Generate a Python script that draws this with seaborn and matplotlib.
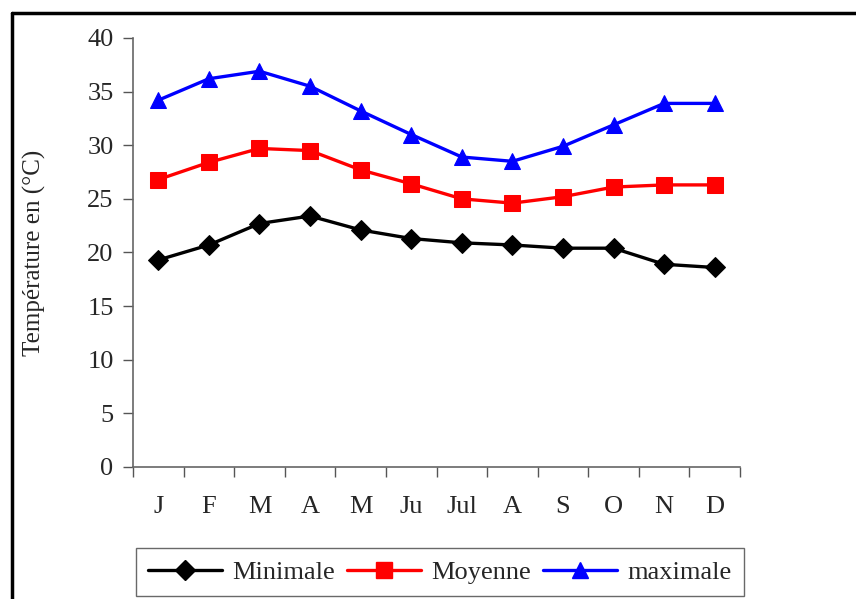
import matplotlib
matplotlib.use("Agg")
import matplotlib.pyplot as plt
from matplotlib.lines import Line2D
import seaborn as sns
import pandas as pd

months = ["J", "F", "M", "A", "M", "Ju", "Jul", "A", "S", "O", "N", "D"]
t_min = [19.3, 20.7, 22.7, 23.4, 22.1, 21.3, 20.9, 20.7, 20.4, 20.4, 18.9, 18.6]
t_moy = [26.8, 28.4, 29.7, 29.5, 27.7, 26.4, 25.0, 24.6, 25.2, 26.1, 26.3, 26.3]
t_max = [34.2, 36.2, 36.9, 35.5, 33.2, 31.0, 28.9, 28.5, 29.9, 31.9, 33.9, 33.9]

series_names = ["Minimale", "Moyenne", "maximale"]
series_values = [t_min, t_moy, t_max]
colors = ["black", "#ff0000", "#0000ff"]
markers = ["D", "s", "^"]
marker_sizes = [10, 11, 12]

sns.set_theme(style="white")
plt.rcParams["font.family"] = ["Liberation Serif", "DejaVu Serif"]

fig = plt.figure(figsize=(8.56, 5.99), dpi=100)
ax = fig.add_axes([0.1554, 0.2204, 0.7091, 0.7162])

idx = list(range(len(months)))
for name, vals, c, m, ms in zip(series_names, series_values, colors, markers, marker_sizes):
    df = pd.DataFrame({"x": idx, "y": vals})
    sns.lineplot(data=df, x="x", y="y", ax=ax, color=c, marker=m,
                 markersize=ms, markeredgecolor=c, linewidth=2.4, label=name)

ax.set_ylim(0, 40)
ax.set_yticks(range(0, 41, 5))
ax.set_xlim(-0.5, len(months) - 0.5)
# boundary ticks between months, labels centred on each month
ax.set_xticks([i - 0.5 for i in range(len(months) + 1)])
ax.set_xticklabels([])
ax.set_xticks(idx, minor=True)
ax.set_xticklabels(months, minor=True)
ax.tick_params(axis="x", which="major", direction="out", length=7, width=1, color="#555555", bottom=True)
ax.tick_params(axis="x", which="minor", length=0, pad=21, labelsize=19)
ax.tick_params(axis="y", direction="out", length=7, width=1, color="#555555", left=True, labelsize=19, pad=7)
ax.set_xlabel("")
ax.set_ylabel("Température en (°C)", fontsize=18, labelpad=30)

for side in ["top", "right"]:
    ax.spines[side].set_visible(False)
for side in ["left", "bottom"]:
    ax.spines[side].set_color("#666666")
    ax.spines[side].set_linewidth(1.2)

ax.get_legend().remove()
handles = [Line2D([0], [0], color=c, marker=m, markersize=ms, linewidth=2.4, markeredgecolor=c)
           for c, m, ms in zip(colors, markers, marker_sizes)]
fig.legend(handles, series_names, loc="center", bbox_to_anchor=(0.514, 0.045), ncol=3,
           fontsize=19, frameon=True, fancybox=False, edgecolor="#444444",
           handlelength=2.8, columnspacing=0.45, handletextpad=0.4, borderpad=0.45,
           borderaxespad=0)

# outer frame (left and top edges)
fig.add_artist(Line2D([0.0140, 0.0140], [0.0, 0.978], transform=fig.transFigure, color="black", linewidth=2.5))
fig.add_artist(Line2D([0.0140, 1.0], [0.978, 0.978], transform=fig.transFigure, color="black", linewidth=2.5))

fig.savefig("out.png", dpi=100, facecolor="white")
